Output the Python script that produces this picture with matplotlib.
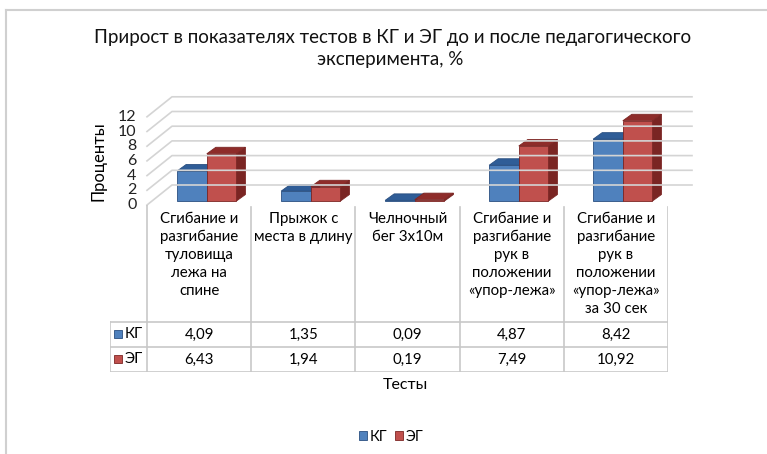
import matplotlib.pyplot as plt
from matplotlib.patches import Polygon, Patch
from matplotlib.lines import Line2D

plt.rcParams['font.family'] = ['Lato', 'DejaVu Sans']

tests = ["Сгибание и\nразгибание\nтуловища\nлежа на\nспине",
         "Прыжок с\nместа в длину",
         "Челночный\nбег 3х10м",
         "Сгибание и\nразгибание\nрук в\nположении\n«упор-лежа»",
         "Сгибание и\nразгибание\nрук в\nположении\n«упор-лежа»\nза 30 сек"]
kg = [4.09, 1.35, 0.09, 4.87, 8.42]
eg = [6.43, 1.94, 0.19, 7.49, 10.92]
groups = ["КГ", "ЭГ"]
yticks = [0, 2, 4, 6, 8, 10, 12]

W, H = 767, 454
fig = plt.figure(figsize=(W / 100, H / 100), dpi=100)

def frac(x0, y0, x1, y1):
    # pixel box -> figure fraction
    return [x0 / W, 1 - y1 / H, (x1 - x0) / W, (y1 - y0) / H]

# outer frame
fig.add_artist(Line2D([6 / W, 1], [1 - 10 / H, 1 - 10 / H], color='#d0d0d0', lw=1.5))
fig.add_artist(Line2D([6 / W, 6 / W], [0, 1 - 10 / H], color='#d0d0d0', lw=1.5))

# ---- 3D-ish plot area ----
colw = 104.0
pxu = 7.35
ax = fig.add_axes(frac(147, 97, 692, 205))
ax.set_xlim(0, 545 / colw)
ax.set_ylim(0, 108 / pxu)
ax.axis('off')
dxw, dyw = 25 / colw, 20 / pxu   # back wall offset
n = len(tests)
grid_c = '#d4d4d4'
for v in yticks:
    ax.plot([0, dxw, n + dxw], [v, v + dyw, v + dyw], color=grid_c, lw=1.2, clip_on=False)
    ax.text(-0.1, v, str(v), ha='right', va='center', fontsize=11.5, color='#222222')
ax.text(-0.47, 6, "Проценты", rotation=90, ha='center', va='center', fontsize=12)

# bars
bx, bw = 0.29, 0.285
base = 0.54
ddx, ddy = 9 / colw, 6.5 / pxu
styles = [('#4f81bd', '#2f5d97', '#24497a', '#2a4f80'),
          ('#c0504d', '#8e2c2a', '#7a2523', '#7c2725')]
for i in range(n):
    for j, vals in enumerate([kg, eg]):
        front, top, side, edge = styles[j]
        x0 = i + bx + j * bw
        x1 = x0 + bw
        y0 = base
        y1 = base + vals[i]
        ax.add_patch(Polygon([(x1, y0), (x1 + ddx, y0 + ddy), (x1 + ddx, y1 + ddy), (x1, y1)],
                             closed=True, fc=side, ec=edge, lw=0.6, clip_on=False))
        ax.add_patch(Polygon([(x0, y1), (x0 + ddx, y1 + ddy), (x1 + ddx, y1 + ddy), (x1, y1)],
                             closed=True, fc=top, ec=edge, lw=0.6, clip_on=False))
        ax.add_patch(Polygon([(x0, y0), (x1, y0), (x1, y1), (x0, y1)],
                             closed=True, fc=front, ec=edge, lw=0.6, clip_on=False))

# ---- data table ----
tx = fig.add_axes(frac(110, 205, 668, 372))
key_w = 37 / colw
tx.set_xlim(-key_w, n)
tx.set_ylim(372, 205)
tx.axis('off')
lc = '#c8c8c8'
for i in range(n + 1):
    tx.plot([i, i], [207 if i else 205, 372], color=lc, lw=1.2)
for yy in [322, 347, 372]:
    tx.plot([-key_w, n], [yy, yy], color=lc, lw=1.2)
tx.plot([-key_w, -key_w], [322, 372], color=lc, lw=1.2)
for i, t in enumerate(tests):
    tx.text(i + 0.5, 212, t, ha='center', va='top', fontsize=10.8, linespacing=1.35)
for r, (name, vals) in enumerate(zip(groups, [kg, eg])):
    yy = 334.5 + 25 * r
    tx.plot([-key_w + 0.075], [yy], marker='s', ms=6, color=styles[r][0],
            mec=styles[r][3], mew=0.6)
    tx.text(-key_w + 0.14, yy, name, ha='left', va='center', fontsize=10.8)
    for i, v in enumerate(vals):
        tx.text(i + 0.5, yy, f"{v:.2f}".replace('.', ','), ha='center', va='center', fontsize=10.8)

# titles
fig.text(393 / W, 1 - 37 / H, "Прирост в показателях тестов в КГ и ЭГ до и после педагогического",
         ha='center', va='center', fontsize=13.5, color='#111111')
fig.text(390 / W, 1 - 60 / H, "эксперимента, %", ha='center', va='center', fontsize=13.5,
         color='#111111')
fig.text(405 / W, 1 - 385 / H, "Тесты", ha='center', va='center', fontsize=11.5)

handles = [Patch(fc=styles[k][0], ec=styles[k][3], lw=0.6) for k in range(2)]
fig.legend(handles, groups, loc='center', bbox_to_anchor=(391 / W, 1 - 437 / H), ncol=2,
           frameon=False, fontsize=10.5, handlelength=0.55, handleheight=0.55,
           handletextpad=0.2, columnspacing=0.5)

fig.savefig("out.png", dpi=100)
